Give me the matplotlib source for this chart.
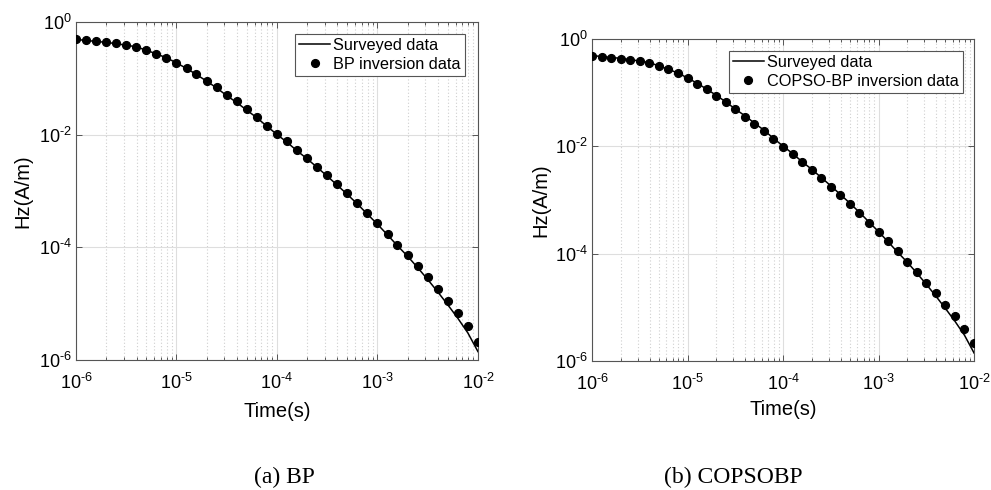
import numpy
import matplotlib
matplotlib.use('Agg')
import matplotlib.pyplot as plt
from matplotlib.ticker import LogLocator, NullLocator, FuncFormatter

plt.rcParams['font.family'] = ['Liberation Sans', 'DejaVu Sans']
plt.rcParams['mathtext.default'] = 'regular'
plt.rcParams['axes.unicode_minus'] = False

# sampling times (s), 10 per decade
timeArr = [1.0e-6, 1.26e-6, 1.58e-6, 2.0e-6, 2.51e-6, 3.16e-6, 3.98e-6, 5.01e-6, 6.31e-6, 7.94e-6,
           1.0e-5, 1.26e-5, 1.58e-5, 2.0e-5, 2.51e-5, 3.16e-5, 3.98e-5, 5.01e-5, 6.31e-5, 7.94e-5,
           1.0e-4, 1.26e-4, 1.58e-4, 2.0e-4, 2.51e-4, 3.16e-4, 3.98e-4, 5.01e-4, 6.31e-4, 7.94e-4,
           1.0e-3, 1.26e-3, 1.58e-3, 2.0e-3, 2.51e-3, 3.16e-3, 3.98e-3, 5.01e-3, 6.31e-3, 7.94e-3,
           1.0e-2]

# measured Hz response (A/m)
surveyHz = [0.490, 0.473, 0.452, 0.437, 0.412, 0.389, 0.363, 0.316, 0.272, 0.232,
            0.188, 0.150, 0.117, 0.0891, 0.0676, 0.0495, 0.0372, 0.0272, 0.0200, 0.0141,
            0.0101, 0.00733, 0.00519, 0.00372, 0.00263, 0.00184, 0.00127, 8.71e-4, 5.89e-4, 3.89e-4,
            2.57e-4, 1.66e-4, 1.07e-4, 6.92e-5, 4.37e-5, 2.69e-5, 1.62e-5, 9.55e-6, 5.50e-6, 3.02e-6,
            1.41e-6]

# forward response of the BP inverted model
bpHz = [0.490, 0.479, 0.457, 0.442, 0.417, 0.389, 0.363, 0.316, 0.269, 0.234,
        0.191, 0.151, 0.120, 0.0912, 0.0692, 0.0501, 0.0389, 0.0282, 0.0209, 0.0145,
        0.0105, 0.00759, 0.00537, 0.00389, 0.00269, 0.00191, 0.00132, 9.12e-4, 6.17e-4, 4.07e-4,
        2.69e-4, 1.70e-4, 1.11e-4, 7.24e-5, 4.68e-5, 2.95e-5, 1.82e-5, 1.12e-5, 6.92e-6, 3.98e-6,
        2.09e-6]

# forward response of the COPSO-BP inverted model
copsoHz = [0.490, 0.468, 0.447, 0.427, 0.412, 0.385, 0.363, 0.316, 0.275, 0.229,
           0.186, 0.148, 0.115, 0.0871, 0.0661, 0.0490, 0.0355, 0.0263, 0.0191, 0.0138,
           0.00977, 0.00708, 0.00501, 0.00355, 0.00257, 0.00178, 0.00123, 8.51e-4, 5.75e-4, 3.80e-4,
           2.51e-4, 1.70e-4, 1.12e-4, 7.08e-5, 4.47e-5, 2.82e-5, 1.82e-5, 1.10e-5, 6.92e-6, 3.98e-6,
           2.14e-6]

xTicks = [1e-6, 1e-5, 1e-4, 1e-3, 1e-2]
yTicks = [1e-6, 1e-4, 1e-2, 1e0]


def decadeLabel(val, pos):
    # 10^n with a short hyphen for negative powers
    n = int(round(numpy.log10(val)))
    if n < 0:
        return '$10^{\u2010%d}$' % (-n)
    return '$10^{%d}$' % n


# axes rect, inversion series, legend text, caption, caption x, legend anchor, label offsets
panels = [
    ([0.0767, 0.2653, 0.4056, 0.6897], bpHz, 'BP inversion data', '(a) BP', 0.2866,
     (0.9677, 0.9645), (-0.109, -0.124)),
    ([0.5974, 0.2633, 0.3855, 0.6571], copsoHz, 'COPSO-BP inversion data', '(b) COPSOBP', 0.7397,
     (0.971, 0.963), (-0.11, -0.121)),
]

fig = plt.figure(figsize=(9.91, 4.9), dpi=100)

for rect, invHz, invLabel, caption, capX, legXY, lblOff in panels:
    ax = fig.add_axes(rect)
    ax.plot(timeArr, surveyHz, '-', color='k', linewidth=1.1, label='Surveyed data', zorder=3)
    ax.plot(timeArr, invHz, 'o', color='k', markersize=5.6, label=invLabel, zorder=4)
    ax.set_xscale('log')
    ax.set_yscale('log')
    ax.set_xlim(1e-6, 1e-2)
    ax.set_ylim(1e-6, 1e0)
    ax.set_xticks(xTicks)
    ax.set_yticks(yTicks)
    ax.xaxis.set_major_formatter(FuncFormatter(decadeLabel))
    ax.yaxis.set_major_formatter(FuncFormatter(decadeLabel))
    ax.xaxis.set_minor_locator(LogLocator(base=10, subs=numpy.arange(2, 10), numticks=20))
    ax.yaxis.set_minor_locator(NullLocator())

    ax.grid(True, which='major', color='#dedede', linestyle='-', linewidth=0.8)
    ax.grid(True, which='minor', axis='x', color='#cfcfcf', linestyle=(0, (1, 2)), linewidth=0.8)
    ax.set_axisbelow(True)

    ax.tick_params(which='both', direction='in', top=True, right=True, colors='#555555',
                   labelcolor='k', labelsize=13, width=0.7)
    ax.tick_params(which='major', length=4)
    ax.tick_params(which='minor', length=2.5)
    ax.tick_params(axis='x', pad=9)
    ax.tick_params(axis='y', pad=3)
    for sp in ax.spines.values():
        sp.set_color('#555555')
        sp.set_linewidth(0.8)

    ax.set_xlabel('Time(s)', fontsize=14.5)
    ax.set_ylabel('Hz(A/m)', fontsize=14.5)
    ax.yaxis.set_label_coords(lblOff[0], 0.5)
    ax.xaxis.set_label_coords(0.5, lblOff[1])

    leg = ax.legend(loc='upper right', bbox_to_anchor=legXY, borderaxespad=0, fontsize=11.7,
                    fancybox=False, framealpha=1, edgecolor='#555555', handlelength=1.9,
                    handletextpad=0.2, borderpad=0.25, labelspacing=0.25, numpoints=1)
    leg.get_frame().set_linewidth(0.8)

    fig.text(capX, 0.0266, caption, ha='center', va='center', fontsize=17,
             family=['Liberation Serif', 'DejaVu Serif'])

fig.savefig('out.png', dpi=100)
